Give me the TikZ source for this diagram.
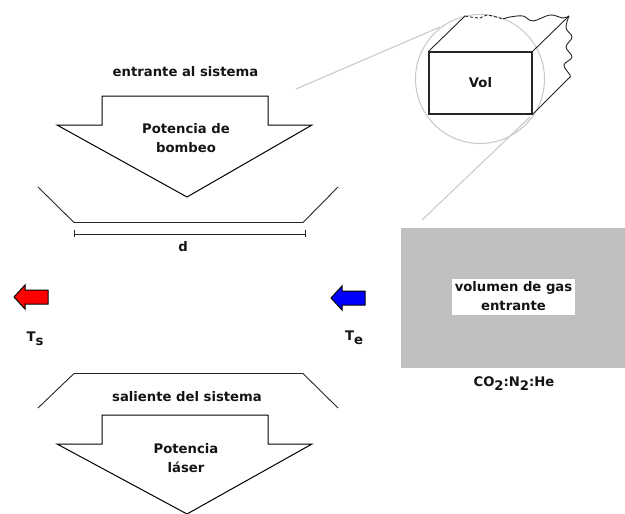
\documentclass[tikz,border=0pt]{standalone}
\usepackage{fontspec}
\setmainfont{DejaVu Sans}
\newcommand{\lowsub}[1]{\raisebox{-4pt}{#1}}
\tikzset{
  lbl/.style={font=\fontsize{13.2}{19}\selectfont\bfseries, align=center, inner sep=0pt, text=black!92},
  outline/.style={draw=black, line width=1pt, line join=miter},
  guide/.style={draw=black!22, line width=1pt},
  thinline/.style={draw=black!85, line width=0.9pt},
}
\begin{document}
\begin{tikzpicture}[x=1pt,y=-1pt]
\useasboundingbox (0,0) rectangle (625,514);
% gas volume
\fill[black!25] (401,228) rectangle (625,368);
\node[fill=white, minimum width=123pt, minimum height=36pt, inner sep=0pt, lbl] (gas) at (513.5,296.5) {volumen de gas\\entrante};
\node[lbl] (mix) at (514,384) {CO\lowsub{2}:N\lowsub{2}:He};
% circle and guides
\node[circle, guide, minimum size=129pt, inner sep=0pt] (zoomc) at (480,79) {};
\coordinate (g1a) at (296,89);
\coordinate (g1b) at (440,27);
\coordinate (g2a) at (422,220);
\coordinate (g2b) at (530,117);
\draw[guide] (g1a) -- (g1b);
\draw[guide] (g2a) -- (g2b);
% box
\node[draw=black!85, line width=1.1pt, minimum width=103pt, minimum height=62pt, inner sep=0pt, lbl] (vol) at (480.5,83) {Vol};
\coordinate (t1) at (465,16);
\coordinate (t2) at (569,16);
\coordinate (r2) at (570,77);
\draw[thinline] (vol.north west) -- (t1);
\draw[thinline] (vol.north east) -- (t2);
\draw[thinline] (vol.south east) -- (r2);
\draw[thinline, densely dashed] plot[smooth, tension=0.6] coordinates {(465,16) (480,18) (487,15) (503,19)};
\draw[thinline] plot[smooth, tension=0.6] coordinates {(503,19) (510,17) (523,16) (533,21) (550,15) (563,18) (569,16)};
\draw[thinline] plot[smooth, tension=0.6] coordinates {(569,16) (566,28) (572,37) (566,47) (572,57) (564,65) (570,75) (570,77)};
% upper arrow
\draw[outline] (102,96) -- (268,96) -- (268,125) -- (312,125) -- (187,197) -- (57,125) -- (102,125) -- cycle;
\node[lbl] (top) at (185.5,72) {entrante al sistema};
\node[lbl] (pb) at (186,138.5) {Potencia de\\bombeo};
% upper tray
\draw[thinline] (38,187) -- (74,222.5) -- (303,222.5) -- (338,187);
% dimension
\coordinate (d1) at (74,234);
\coordinate (d2) at (305,234);
\draw[thinline] (d1) -- (d2);
\draw[thinline] (74,230) -- (74,237);
\draw[thinline] (305,230) -- (305,237);
\node[lbl] (d) at (183,247) {d};
% small arrows
\draw[black, line width=1pt, fill=red] (14,297) -- (25,285) -- (25,290) -- (48,290) -- (48,304) -- (25,304) -- (25,309) -- cycle;
\node[lbl] (ts) at (35,339) {T\lowsub{s}};
\draw[black, line width=1pt, fill=blue] (331,298) -- (342,286) -- (342,291) -- (365,291) -- (365,305) -- (342,305) -- (342,310) -- cycle;
\node[lbl] (te) at (354,338) {T\lowsub{e}};
% lower tray
\draw[thinline] (38,408) -- (74,373.5) -- (303,373.5) -- (338,408);
\node[lbl] (sal) at (187,397) {saliente del sistema};
% lower arrow
\draw[outline] (102,415) -- (268,415) -- (268,444) -- (312,444) -- (187,514) -- (57,444) -- (102,444) -- cycle;
\node[lbl] (pl) at (186,458) {Potencia\\láser};
\end{tikzpicture}
\end{document}
